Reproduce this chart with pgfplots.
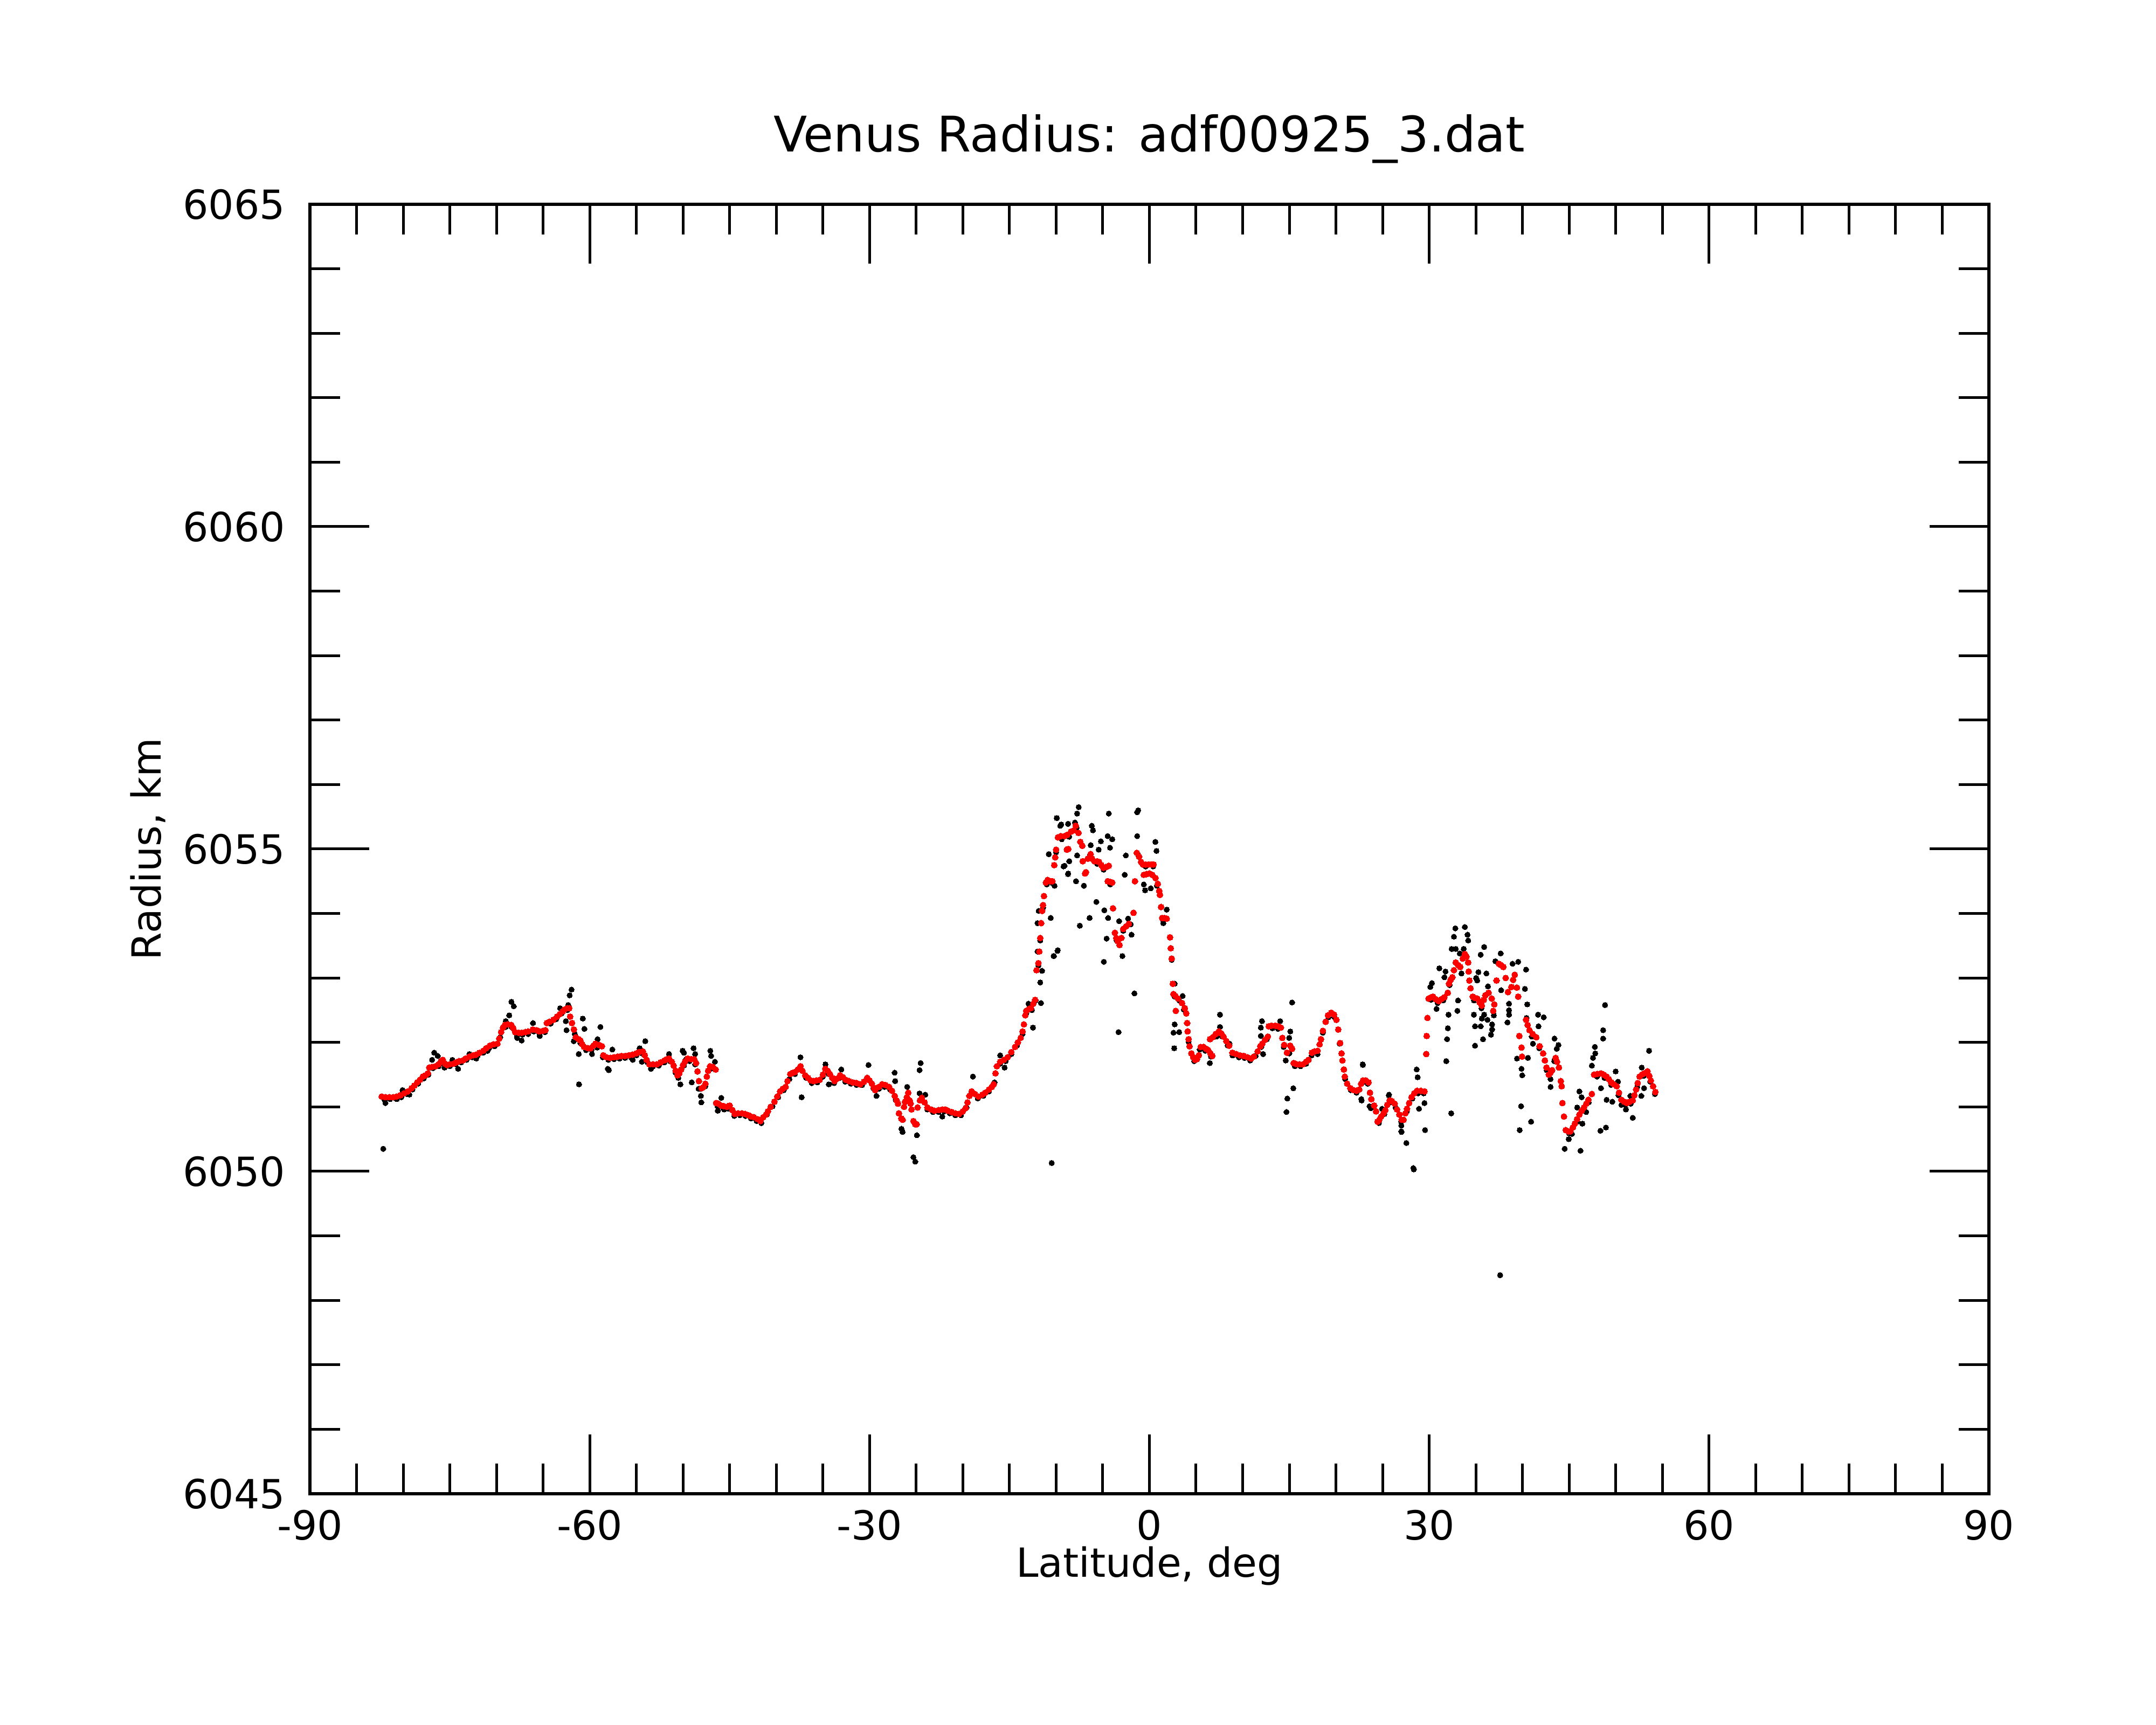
\documentclass[border=0pt]{standalone}
\usepackage{pgfplots}
\pgfplotsset{compat=1.18}
\usepackage{fontspec}
\setmainfont{DejaVu Sans}
\begin{document}
\begin{tikzpicture}
\begin{axis}[
  scale only axis, width=311.5pt, height=239.2pt,
  xmin=-90, xmax=90, ymin=6045, ymax=6065,
  clip=false,
  xtick={-90,-60,-30,0,30,60,90},
  xticklabels={-90,-60,-30,0,30,60,90},
  ytick={6045,6050,6055,6060,6065},
  yticklabels={6045,6050,6055,6060,6065},
  minor x tick num=5, minor y tick num=4,
  tick align=inside,
  major tick length=11pt, minor tick length=5.6pt,
  every tick/.style={black, line width=0.5pt},
  axis line style={line width=0.6pt},
  ticklabel style={font=\fontsize{7.45}{9}\selectfont},
  xticklabel style={anchor=north, inner sep=0pt, yshift=-2.8pt},
  yticklabel style={anchor=east, inner sep=0pt, xshift=-4.4pt},
]
\addplot[black, only marks, mark=*, mark size=0.5pt, mark options={draw=black, fill=black, line width=0pt}] coordinates {
(-82.0,6051.11)(-81.4,6051.12)(-80.8,6051.13)(-80.2,6051.15)(-79.6,6051.20)(-79.0,6051.27)(-78.4,6051.36)(-77.8,6051.44)
(-77.3,6051.50)(-76.8,6051.60)(-76.2,6051.63)(-75.6,6051.65)(-75.0,6051.63)(-74.4,6051.66)(-73.8,6051.69)(-73.2,6051.73)
(-72.6,6051.77)(-72.0,6051.80)(-71.4,6051.84)(-70.8,6051.91)(-70.2,6051.94)(-69.6,6052.08)(-69.0,6052.24)(-68.4,6052.24)
(-67.8,6052.10)(-67.2,6052.12)(-66.6,6052.13)(-66.0,6052.17)(-65.4,6052.14)(-64.8,6052.16)(-64.2,6052.29)(-63.6,6052.36)
(-63.0,6052.45)(-62.4,6052.50)(-61.6,6052.13)(-61.0,6051.99)(-60.4,6051.88)(-59.8,6051.89)(-59.2,6051.92)(-58.6,6051.77)
(-58.0,6051.73)(-57.4,6051.74)(-56.8,6051.75)(-56.2,6051.76)(-55.6,6051.77)(-55.0,6051.80)(-54.4,6051.83)(-53.8,6051.69)
(-53.2,6051.63)(-52.6,6051.64)(-52.0,6051.69)(-51.4,6051.71)(-50.8,6051.53)(-50.5,6051.45)(-49.9,6051.64)(-49.3,6051.71)
(-48.7,6051.66)(-48.2,6051.28)(-47.6,6051.32)(-47.0,6051.59)(-46.3,6051.01)(-45.7,6050.98)(-45.1,6050.97)(-44.5,6050.86)
(-43.9,6050.87)(-43.3,6050.86)(-42.7,6050.82)(-42.1,6050.78)(-41.6,6050.75)(-41.0,6050.88)(-40.4,6051.01)(-39.8,6051.15)
(-39.2,6051.26)(-38.6,6051.43)(-38.0,6051.51)(-37.4,6051.60)(-36.8,6051.45)(-36.2,6051.37)(-35.6,6051.38)(-35.0,6051.47)
(-34.4,6051.51)(-33.8,6051.37)(-33.2,6051.45)(-32.6,6051.39)(-32.0,6051.36)(-31.4,6051.34)(-30.8,6051.34)(-30.2,6051.42)
(-29.6,6051.29)(-29.0,6051.28)(-28.4,6051.31)(-27.8,6051.27)(-27.2,6051.11)(-24.4,6051.11)(-23.8,6050.96)(-23.2,6050.92)
(-22.6,6050.92)(-22.0,6050.93)(-21.4,6050.90)(-20.8,6050.87)(-20.2,6050.87)(-19.6,6050.99)(-19.1,6051.21)(-18.4,6051.13)
(-17.8,6051.17)(-17.2,6051.24)(-16.6,6051.38)(-16.0,6051.67)(-15.4,6051.71)(-14.8,6051.82)(-14.2,6051.95)(-13.6,6052.13)
(-13.2,6052.45)(-12.6,6052.50)(-12.2,6052.65)(-11.9,6053.19)(-11.7,6053.58)(-11.4,6054.09)(-11.0,6054.45)(-10.4,6054.47)
(-10.0,6054.95)(-9.4,6055.15)(-8.6,6055.19)(-7.8,6055.33)(-6.4,6054.89)(-5.6,6054.77)(-4.9,6054.68)(-4.2,6054.45)
(-3.5,6053.58)(-2.8,6053.73)(-2.0,6053.83)(-1.2,6054.91)(-0.4,6054.73)(0.4,6054.73)(0.8,6054.43)(1.5,6053.89)
(2.4,6053.28)(2.7,6052.71)(3.2,6052.65)(3.7,6052.51)(4.2,6052.01)(4.8,6051.71)(5.4,6051.89)(6.0,6051.87)
(6.6,6051.78)(7.2,6052.09)(7.8,6052.09)(8.4,6051.95)(9.0,6051.80)(9.6,6051.77)(10.2,6051.76)(10.8,6051.72)
(11.4,6051.79)(12.0,6051.93)(12.6,6052.05)(13.2,6052.22)(13.8,6052.21)(14.4,6051.93)(15.0,6051.83)(15.6,6051.63)
(16.2,6051.63)(16.8,6051.67)(17.4,6051.80)(18.0,6051.84)(18.6,6052.15)(19.2,6052.39)(19.8,6052.40)(20.4,6051.98)
(21.0,6051.43)(21.6,6051.26)(22.2,6051.22)(22.8,6051.37)(23.4,6051.36)(24.0,6051.01)(24.6,6050.75)(25.2,6050.89)
(25.8,6051.07)(26.4,6050.99)(27.0,6050.77)(27.6,6050.93)(28.2,6051.13)(28.8,6051.21)(29.4,6051.21)(30.2,6052.66)
(30.9,6052.61)(31.5,6052.65)(32.2,6052.89)(34.8,6052.65)(35.6,6052.53)(41.0,6052.09)(41.8,6051.91)(42.6,6051.57)
(43.4,6051.71)(45.3,6050.58)(45.9,6050.77)(46.5,6050.95)(47.1,6051.07)(48.0,6051.47)(48.8,6051.45)(49.5,6051.34)
(50.3,6051.18)(51.0,6051.03)(51.6,6051.05)(52.3,6051.31)(53.0,6051.48)(53.7,6051.39)(54.2,6051.20)
(-82.14,6050.35)(-68.4,6052.63)(-68.15,6052.56)(-68.64,6052.42)(-61.95,6052.82)(-62.15,6052.73)(-62.3,6052.58)(-62.56,6052.33)
(-62.49,6052.19)(-60.74,6052.37)(-60.57,6052.21)(-58.86,6052.24)(-61.18,6051.82)(-61.15,6051.35)(-58.06,6051.59)(-57.95,6051.57)
(-54.05,6052.02)(-54.65,6051.91)(-57.58,6051.89)(-76.9,6051.73)(-76.67,6051.84)(-76.3,6051.79)(-81.9,6051.06)(-80.68,6051.12)
(-79.34,6051.19)(-80.07,6051.26)(-75.57,6051.61)(-74.72,6051.73)(-74.11,6051.59)(-72.9,6051.82)(-72.17,6051.75)(-70.95,6051.87)
(-69.0,6052.33)(-67.3,6052.03)(-67.79,6052.07)(-66.08,6052.30)(-65.36,6052.10)(-63.17,6052.53)(-61.71,6052.02)(-59.76,6051.82)
(-59.16,6052.05)(-55.39,6051.73)(-54.41,6051.70)(-53.44,6051.59)(-51.5,6051.82)(-50.28,6051.35)(-50.04,6051.87)(-49.9,6051.84)
(-49.67,6051.74)(-48.87,6051.91)(-48.7,6051.82)(-49.06,6051.38)(-48.33,6051.28)(-48.09,6051.17)(-48.04,6051.07)(-47.07,6051.87)
(-46.99,6051.79)(-46.58,6051.70)(-47.31,6051.56)(-45.9,6051.14)(-46.27,6050.94)(-45.6,6050.96)
(-37.41,6051.77)(-37.28,6051.15)(-34.73,6051.66)(-33.03,6051.58)(-30.11,6051.65)(-34.37,6051.35)(-29.26,6051.17)(-27.31,6051.53)
(-27.26,6051.40)(-25.97,6051.31)(-26.58,6050.66)(-26.46,6050.61)(-24.93,6050.56)(-24.52,6051.68)(-24.64,6051.57)(-24.64,6051.21)
(-24.03,6051.19)(-22.2,6050.85)(-18.92,6051.47)(-16.0,6051.80)(-15.52,6051.61)(-12.48,6052.23)(-12.96,6052.60)(-11.63,6052.61)
(-11.51,6053.11)(-11.7,6052.93)(-11.99,6053.41)(-11.99,6053.85)(-11.87,6054.04)(-10.58,6053.93)(-10.24,6053.34)(-9.85,6053.42)
(-10.78,6054.92)(-10.17,6054.43)(-9.92,6055.48)(-9.56,6055.36)(-8.71,6054.62)(-9.2,6054.73)(-8.59,6054.81)(-7.86,6054.50)
(-7.98,6055.41)(-25.1,6050.15)(-25.3,6050.22)(-10.48,6050.13)(37.6,6048.39)(28.3,6050.05)
(-7.58,6055.65)(-4.35,6055.55)(-1.31,6055.57)(-1.2,6055.60)(-9.94,6055.48)(-7.75,6055.55)(-9.45,6055.38)(-8.72,6055.39)
(-6.17,6055.36)(-6.05,6055.29)(-1.31,6055.20)(0.64,6055.11)(0.76,6054.97)(-3.98,6055.15)(-4.47,6055.20)(-5.2,6055.12)
(-6.29,6055.06)(-4.22,6055.02)(-5.44,6054.99)(-2.52,6054.90)(-7.75,6054.90)(-9.09,6054.74)(-8.72,6054.61)(-7.87,6054.50)
(-7.02,6054.43)(-2.64,6054.60)(-0.46,6054.36)(0.15,6054.39)(-0.6,6054.45)(-5.68,6054.18)(-4.83,6054.05)(-4.42,6053.93)
(-6.41,6053.93)(-7.46,6053.81)(-3.25,6053.88)(-2.28,6053.92)(-1.91,6053.67)(-4.59,6053.61)(-9.82,6053.43)(-10.26,6053.34)
(-4.88,6053.25)(-2.89,6053.34)(-1.6,6052.76)(-3.3,6052.16)(1.86,6054.06)(1.49,6053.85)(2.71,6052.91)(3.56,6052.72)
(2.71,6052.28)(2.58,6052.15)(3.19,6052.16)(2.66,6051.91)(6.48,6051.68)(7.57,6052.43)(7.57,6052.24)(8.6,6051.98)
(8.9,6051.80)(12.07,6052.33)(11.95,6052.23)(11.95,6052.10)(12.19,6051.82)(14.02,6052.33)(15.3,6052.62)(15.11,6052.17)
(14.99,6052.07)(14.62,6051.72)(15.43,6051.29)(14.79,6051.13)(14.7,6050.92)(18.03,6051.82)(22.89,6051.65)(22.72,6051.12)
(23.74,6050.98)(25.69,6051.19)(27.03,6050.61)
(22.88,6051.66)(22.75,6051.10)(23.6,6051.01)(24.94,6050.97)(25.67,6051.18)(27.01,6050.71)(27.01,6050.62)(27.55,6050.44)
(28.35,6050.03)(28.66,6051.58)(28.76,6051.46)(28.91,6050.97)(29.49,6051.06)(29.56,6050.64)(32.36,6050.90)(31.83,6051.71)
(31.92,6052.05)(32.0,6052.22)(32.07,6052.43)(33.02,6052.49)(33.09,6052.65)(30.12,6052.86)(30.29,6052.92)(31.09,6053.15)
(31.75,6053.10)(31.63,6053.01)(30.78,6052.52)(32.8,6053.77)(33.82,6053.79)(32.65,6053.64)(34.11,6053.67)(34.18,6053.58)
(32.41,6053.45)(32.85,6053.45)(33.7,6053.45)(33.28,6053.38)(33.46,6053.07)(35.89,6053.48)(35.52,6053.36)(35.03,6053.00)
(35.28,6053.09)(36.13,6053.07)(35.15,6052.96)(36.3,6052.87)(34.79,6052.43)(34.91,6052.25)(35.52,6052.25)(35.64,6052.37)
(35.89,6052.43)(36.25,6052.35)(36.74,6052.28)(36.74,6052.20)(36.62,6052.12)(35.77,6052.05)(34.91,6051.95)(36.93,6052.42)
(37.66,6053.38)(37.1,6053.26)(38.93,6053.22)(39.54,6053.25)(40.39,6053.13)(37.71,6052.81)(40.26,6052.83)(38.56,6052.60)
(40.51,6052.59)(38.56,6052.50)(38.56,6052.43)(38.39,6052.31)(40.43,6052.38)(41.67,6052.43)(42.28,6052.39)(41.72,6052.25)
(41.12,6051.98)(39.41,6051.75)(40.58,6051.76)(39.9,6051.59)(39.97,6051.49)(39.85,6051.01)(40.92,6050.77)(39.7,6050.64)
(43.43,6052.06)(43.86,6051.96)(43.67,6051.90)(43.01,6051.31)(43.01,6051.43)(44.52,6050.35)(44.96,6050.50)(45.0,6050.59)
(46.22,6050.32)(46.1,6051.24)(46.34,6051.15)(46.83,6050.92)(46.42,6050.74)(45.86,6050.99)(47.76,6051.93)(47.8,6051.83)
(47.56,6051.76)(47.44,6051.64)(48.65,6052.19)(48.65,6052.06)(48.85,6052.58)(48.41,6051.29)(49.02,6051.11)(49.63,6051.08)
(49.99,6051.55)(50.24,6051.39)(48.36,6050.63)(48.95,6050.68)(51.09,6050.96)(51.82,6050.83)(51.57,6051.17)(52.79,6051.61)
(53.03,6051.29)(52.74,6051.17)(53.57,6051.87)(50.6,6051.03)
};
\addplot[red, only marks, mark=*, mark size=0.56pt, mark options={draw=red, fill=red, line width=0pt}] coordinates {
(-82.3,6051.16)(-81.9,6051.15)(-81.5,6051.15)(-81.1,6051.15)(-80.7,6051.16)(-80.3,6051.18)(-79.9,6051.21)(-79.5,6051.24)
(-79.1,6051.29)(-78.8,6051.33)(-78.5,6051.38)(-78.2,6051.42)(-77.9,6051.47)(-77.6,6051.49)(-77.35,6051.52)(-77.2,6051.61)
(-76.9,6051.62)(-76.55,6051.63)(-76.2,6051.66)(-75.95,6051.71)(-75.75,6051.73)(-75.5,6051.67)(-75.3,6051.65)(-75.0,6051.66)
(-74.6,6051.67)(-74.3,6051.69)(-74.0,6051.71)(-73.6,6051.72)(-73.3,6051.75)(-72.9,6051.78)(-72.5,6051.80)(-72.2,6051.81)
(-71.8,6051.84)(-71.4,6051.87)(-71.1,6051.91)(-70.7,6051.95)(-70.3,6051.97)(-69.9,6051.98)(-69.7,6052.06)(-69.5,6052.16)
(-69.3,6052.23)(-69.1,6052.27)(-68.8,6052.28)(-68.4,6052.27)(-68.2,6052.22)(-68.0,6052.16)(-67.6,6052.15)(-67.3,6052.15)
(-66.9,6052.16)(-66.6,6052.17)(-66.1,6052.20)(-65.7,6052.19)(-65.4,6052.17)(-65.0,6052.18)(-64.75,6052.19)(-64.6,6052.30)
(-64.3,6052.32)(-63.9,6052.35)(-63.5,6052.40)(-63.2,6052.44)(-62.9,6052.48)(-62.7,6052.51)(-62.4,6052.53)(-62.2,6052.53)
(-62.1,6052.40)(-61.9,6052.30)(-61.7,6052.20)(-61.5,6052.08)(-61.2,6052.05)(-61.0,6052.03)(-60.8,6051.97)(-60.6,6051.93)
(-60.2,6051.91)(-59.9,6051.91)(-59.6,6051.95)(-59.4,6051.98)(-59.0,6051.96)(-58.7,6051.94)(-58.55,6051.80)(-58.2,6051.77)
(-57.8,6051.76)(-57.4,6051.77)(-57.0,6051.78)(-56.6,6051.79)(-56.2,6051.79)(-55.8,6051.80)(-55.4,6051.81)(-55.0,6051.83)
(-54.7,6051.85)(-54.3,6051.86)(-54.1,6051.80)(-53.9,6051.73)(-53.6,6051.66)(-53.2,6051.66)(-52.8,6051.66)(-52.4,6051.69)
(-52.0,6051.72)(-51.7,6051.74)(-51.5,6051.75)(-51.2,6051.70)(-51.0,6051.64)(-50.8,6051.56)(-50.6,6051.49)(-50.4,6051.52)
(-50.2,6051.58)(-50.0,6051.65)(-49.8,6051.70)(-49.5,6051.75)(-49.1,6051.74)(-48.8,6051.74)(-48.6,6051.68)(-48.45,6051.55)
(-48.3,6051.40)(-48.0,6051.29)(-47.8,6051.31)(-47.6,6051.36)(-47.45,6051.47)(-47.3,6051.56)(-47.1,6051.63)(-46.8,6051.62)
(-46.5,6051.58)(-46.45,6051.06)(-46.2,6051.05)(-45.9,6051.02)(-45.6,6051.01)(-45.3,6051.00)
(-45.0,6051.02)(-44.7,6050.95)(-44.45,6050.89)(-44.1,6050.90)(-43.7,6050.90)(-43.35,6050.89)(-43.0,6050.87)(-42.7,6050.85)
(-42.4,6050.84)(-42.0,6050.81)(-41.7,6050.78)(-41.4,6050.84)(-41.1,6050.88)(-40.9,6050.93)(-40.6,6051.00)(-40.2,6051.08)
(-39.9,6051.16)(-39.6,6051.24)(-39.3,6051.28)(-39.0,6051.31)(-38.8,6051.40)(-38.5,6051.51)(-38.2,6051.53)(-38.0,6051.54)
(-37.7,6051.58)(-37.4,6051.63)(-37.2,6051.56)(-36.9,6051.49)(-36.6,6051.45)(-36.3,6051.41)(-36.0,6051.40)(-35.7,6051.41)
(-35.35,6051.42)(-35.0,6051.50)(-34.75,6051.59)(-34.5,6051.56)(-34.25,6051.51)(-34.0,6051.45)(-33.75,6051.40)(-33.45,6051.44)
(-33.15,6051.49)(-32.85,6051.46)(-32.55,6051.42)(-32.2,6051.40)(-31.8,6051.38)(-31.4,6051.37)(-31.0,6051.35)(-30.6,6051.39)
(-30.25,6051.45)(-30.0,6051.41)(-29.75,6051.36)(-29.55,6051.30)(-29.4,6051.26)(-29.0,6051.31)(-28.65,6051.35)(-28.3,6051.34)
(-27.9,6051.31)(-27.6,6051.25)(-27.3,6051.17)(-27.1,6051.10)(-26.95,6051.05)(-26.85,6050.90)(-26.6,6050.82)(-26.45,6050.80)
(-26.3,6051.00)(-26.2,6051.08)(-26.0,6051.15)(-25.85,6051.22)(-25.7,6051.10)(-25.6,6051.05)(-25.5,6050.96)(-25.3,6050.78)
(-25.1,6050.73)(-24.95,6050.73)(-24.85,6050.99)(-24.6,6051.10)(-24.4,6051.14)(-24.1,6051.07)(-23.8,6050.99)(-23.4,6050.96)
(-23.05,6050.94)(-22.6,6050.95)(-22.2,6050.96)(-21.9,6050.96)(-21.6,6050.94)(-21.2,6050.92)(-20.8,6050.90)(-20.4,6050.89)
(-20.0,6050.93)(-19.7,6050.98)(-19.5,6051.07)(-19.3,6051.17)(-19.05,6051.24)(-18.7,6051.20)(-18.3,6051.16)(-17.9,6051.19)
(-17.6,6051.22)(-17.2,6051.27)(-16.9,6051.31)(-16.7,6051.35)(-16.5,6051.52)(-16.35,6051.63)(-16.0,6051.70)(-15.6,6051.73)
(-15.2,6051.77)(-14.8,6051.85)(-14.4,6051.93)(-14.1,6052.00)(-13.8,6052.07)(-13.6,6052.17)(-13.45,6052.28)(-13.3,6052.42)
(-13.2,6052.49)(-12.9,6052.52)(-12.7,6052.53)(-12.45,6052.60)(-12.25,6052.66)(-12.1,6053.12)(-11.9,6053.23)(-11.8,6053.41)
(-11.7,6053.62)(-11.6,6053.85)(-11.5,6054.04)(-11.4,6054.13)(-11.3,6054.27)(-11.1,6054.48)(-10.9,6054.52)(-10.6,6054.50)
(-10.4,6054.50)(-10.2,6054.75)(-10.1,6054.87)(-10.0,6054.99)(-9.8,6055.18)(-9.5,6055.20)(-9.1,6055.20)(-8.8,6055.22)
(-8.4,6055.27)(-8.1,6055.29)(-7.9,6055.36)
(-7.6,6055.25)(-7.4,6055.11)(-7.2,6055.05)(-8.85,6054.99)(-8.7,6055.00)(-7.14,6054.81)(-6.9,6054.62)(-6.8,6054.64)
(-6.6,6054.85)(-6.3,6054.92)(-6.15,6054.85)(-5.9,6054.81)(-5.6,6054.81)(-5.4,6054.80)(-5.15,6054.75)(-4.95,6054.71)
(-4.65,6054.72)(-4.35,6054.74)(-4.47,6054.50)(-4.2,6054.49)(-3.98,6054.48)(-3.9,6054.08)(-3.7,6053.70)(-3.55,6053.62)
(-3.4,6053.57)(-3.2,6053.51)(-3.0,6053.62)(-2.8,6053.76)(-2.5,6053.80)(-2.2,6053.84)(-1.7,6054.01)(-1.35,6054.94)
(-1.1,6054.88)(-0.9,6054.80)(-0.7,6054.76)(-0.4,6054.76)(-0.1,6054.76)(0.2,6054.76)(0.45,6054.76)(-1.55,6054.50)
(-0.6,6054.60)(-0.3,6054.61)(0.0,6054.62)(0.3,6054.60)(0.65,6054.55)(0.9,6054.46)(1.05,6054.35)(1.13,6054.29)
(1.25,6054.10)(1.37,6053.93)(1.6,6053.93)(1.86,6053.92)(2.22,6053.63)(2.29,6053.46)(2.39,6053.30)(2.51,6052.91)
(2.58,6052.75)(2.8,6052.72)(3.07,6052.68)(2.83,6052.49)(3.5,6052.61)(3.8,6052.53)(3.95,6052.45)(4.05,6052.30)
(4.1,6052.17)(4.2,6052.05)(4.3,6051.94)(4.5,6051.83)(4.7,6051.77)(4.9,6051.73)(5.1,6051.74)(5.3,6051.80)
(5.5,6051.93)(5.8,6051.93)(6.1,6051.90)(6.3,6051.88)(6.55,6051.83)(6.75,6051.79)(6.5,6052.05)(6.8,6052.08)
(7.1,6052.13)(7.45,6052.17)(7.7,6052.14)(7.95,6052.09)(8.25,6052.02)(8.55,6051.95)(8.9,6051.84)(9.3,6051.82)
(9.7,6051.80)(10.1,6051.79)(10.5,6051.77)(10.9,6051.75)(11.2,6051.78)(11.6,6051.86)(11.9,6051.94)(12.1,6051.98)
(12.4,6052.04)(12.7,6052.09)(12.8,6052.25)(13.1,6052.26)(13.5,6052.26)(13.8,6052.25)(14.1,6052.23)(14.25,6052.07)
(14.45,6051.96)(14.75,6051.84)(15.1,6051.95)(15.3,6051.90)(15.47,6051.68)(15.8,6051.66)(16.1,6051.66)(16.45,6051.66)
(16.8,6051.70)(17.06,6051.73)(17.42,6051.84)(17.7,6051.86)(18.03,6051.87)(18.25,6051.97)(18.4,6052.05)(18.6,6052.18)
(18.9,6052.32)(19.15,6052.42)(19.5,6052.46)(19.8,6052.43)(20.05,6052.35)(20.25,6052.20)(20.45,6051.99)(20.6,6051.83)
(20.7,6051.72)(20.85,6051.58)(20.95,6051.47)(21.2,6051.36)(21.55,6051.29)(21.9,6051.26)(22.2,6051.25)(22.5,6051.27)
(22.7,6051.36)(22.9,6051.41)(23.2,6051.41)(23.5,6051.38)(23.65,6051.22)(23.8,6051.12)(24.1,6051.02)(24.3,6050.93)
(24.46,6050.77)(24.65,6050.80)(24.85,6050.85)(25.1,6050.90)(25.3,6050.95)(25.5,6051.03)(25.75,6051.10)(26.0,6051.09)
(26.3,6051.05)(26.55,6050.96)(26.8,6050.88)(27.05,6050.80)(27.25,6050.80)(27.45,6050.90)(27.62,6050.97)(27.85,6051.06)
(28.1,6051.15)(28.4,6051.21)(28.7,6051.25)(29.1,6051.25)(29.5,6051.24)(29.68,6051.82)(29.73,6052.10)(29.81,6052.38)
(29.93,6052.68)(30.2,6052.70)(30.41,6052.71)(30.7,6052.67)(31.02,6052.64)(31.3,6052.67)(31.63,6052.70)(31.99,6052.77)
(32.12,6052.91)(32.3,6052.97)(32.48,6053.01)(32.65,6053.12)(32.85,6053.24)(33.1,6053.20)(33.33,6053.17)(33.6,6053.30)
(33.82,6053.37)(34.0,6053.33)(34.18,6053.24)(34.23,6053.10)(34.31,6052.96)(34.43,6052.84)(34.67,6052.71)(34.9,6052.69)
(35.16,6052.68)(35.4,6052.62)(35.64,6052.57)(35.85,6052.66)(36.01,6052.73)(36.37,6052.77)(36.7,6052.68)(36.98,6052.59)
(36.86,6052.49)(37.22,6052.96)(37.47,6053.22)(37.7,6053.20)(37.95,6053.17)(38.2,6053.00)(38.44,6052.78)(38.81,6052.86)
(39.0,6052.97)(39.17,6053.05)(39.4,6052.85)(39.54,6052.71)(39.66,6052.10)(39.9,6051.92)(39.95,6051.78)(40.39,6052.35)
(40.55,6052.27)(40.75,6052.19)(41.1,6052.13)(41.48,6052.08)(41.84,6051.94)(42.21,6051.83)(42.4,6051.72)(42.57,6051.61)
(42.82,6051.50)(43.0,6051.53)(43.18,6051.57)(43.55,6051.76)(43.7,6051.70)(43.91,6051.61)(44.11,6051.40)(44.2,6051.32)
(44.28,6051.06)(44.45,6050.85)(44.64,6050.64)(44.9,6050.62)(45.13,6050.62)(45.4,6050.68)(45.61,6050.74)(45.85,6050.81)
(46.1,6050.88)(46.35,6050.94)(46.59,6050.99)(46.85,6051.05)(47.07,6051.11)(47.44,6051.20)(47.68,6051.50)(48.0,6051.51)
(48.41,6051.52)(48.7,6051.50)(49.02,6051.47)(49.25,6051.43)(49.5,6051.38)(49.8,6051.35)(50.11,6051.32)(50.35,6051.22)
(50.6,6051.11)(50.9,6051.08)(51.21,6051.06)(51.5,6051.08)(51.82,6051.10)(52.0,6051.18)(52.18,6051.27)(52.35,6051.37)
(52.55,6051.47)(52.8,6051.50)(53.03,6051.52)(53.4,6051.55)(53.6,6051.48)(53.76,6051.41)(54.0,6051.32)(54.25,6051.23)
};
\coordinate (sw) at (rel axis cs:0,0);
\node[anchor=base, inner sep=0pt, font=\fontsize{9.1}{11}\selectfont] at ([yshift=9.7pt]rel axis cs:0.5,1) {Venus Radius: adf00925\_3.dat};
\node[anchor=base, inner sep=0pt, font=\fontsize{7.45}{9}\selectfont] at ([yshift=-15.5pt]rel axis cs:0.5,0) {Latitude, deg};
\node[anchor=base, rotate=90, inner sep=0pt, font=\fontsize{7.45}{9}\selectfont] at ([xshift=-27.6pt]rel axis cs:0,0.5) {Radius, km};
\end{axis}
\useasboundingbox ([xshift=-57.5pt,yshift=-42.9pt]sw) rectangle ++(400pt,320pt);
\end{tikzpicture}
\end{document}
